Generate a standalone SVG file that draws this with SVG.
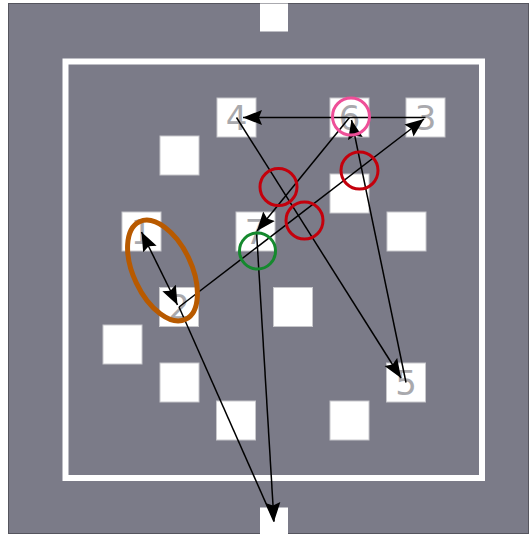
<svg xmlns="http://www.w3.org/2000/svg" width="531" height="536" viewBox="0 0 531 536">
  <defs>
    <style>
      .cell { fill: #ffffff; stroke: #c8c8cc; stroke-width: 1; }
      .lbl { font-family: "DejaVu Sans", sans-serif; font-size: 34px; fill: #a9a9ad; text-anchor: middle; }
      .edge { stroke: #000000; stroke-width: 1.5; fill: none; }
      .ring { fill: none; stroke-width: 3; }
      .red { stroke: #c4000c; }
    </style>
    <marker id="head" viewBox="0 -8 20 16" refX="19" refY="0" markerWidth="20" markerHeight="16" markerUnits="userSpaceOnUse" orient="auto-start-reverse">
      <path d="M0,-7.5 L19,0 L0,7.5 L3,0 z" fill="#000000"/>
    </marker>
  </defs>

  <!-- field -->
  <rect x="8.5" y="3.5" width="520" height="530" fill="#7b7b88" stroke="#55555e" stroke-width="1"/>
  <rect x="65.5" y="61.5" width="416.5" height="416.5" fill="none" stroke="#ffffff" stroke-width="6"/>
  <rect id="gate-top" x="260" y="3.5" width="28" height="28" fill="#ffffff"/>

  <!-- numbered cells -->
  <g id="n4"><rect class="cell" x="217" y="98" width="39" height="39"/><text class="lbl" x="236.5" y="129.5">4</text></g>
  <g id="n6"><rect class="cell" x="330" y="98" width="39" height="39"/><text class="lbl" x="349.5" y="129.5">6</text></g>
  <g id="n3"><rect class="cell" x="406" y="98" width="39" height="39"/><text class="lbl" x="425.5" y="129.5">3</text></g>
  <g id="n1"><rect class="cell" x="122" y="212" width="39" height="39"/><text class="lbl" x="141.5" y="243.5">1</text></g>
  <g id="n7"><rect class="cell" x="236" y="212" width="39" height="39"/><text class="lbl" x="255.5" y="243.5">7</text></g>
  <g id="n2"><rect class="cell" x="159.5" y="287.5" width="39" height="39"/><text class="lbl" x="179" y="319">2</text></g>
  <g id="n5"><rect class="cell" x="386.5" y="363" width="39" height="39"/><text class="lbl" x="406" y="394.5">5</text></g>

  <!-- plain cells -->
  <g id="b1"><rect class="cell" x="160" y="136" width="39" height="39"/></g>
  <g id="b2"><rect class="cell" x="330" y="174" width="39" height="39"/></g>
  <g id="b3"><rect class="cell" x="387" y="212" width="39" height="39"/></g>
  <g id="b4"><rect class="cell" x="273.5" y="287.5" width="39" height="39"/></g>
  <g id="b5"><rect class="cell" x="103" y="325" width="39" height="39"/></g>
  <g id="b6"><rect class="cell" x="160" y="363" width="39" height="39"/></g>
  <g id="b7"><rect class="cell" x="216.5" y="401" width="39" height="39"/></g>
  <g id="b8"><rect class="cell" x="330" y="401" width="39" height="39"/></g>

  <g id="gate-bottom"><rect x="260" y="507.5" width="28" height="28" fill="#ffffff"/></g>

  <!-- connectors -->
  <g id="edges">
    <line class="edge" x1="425.5" y1="117.5" x2="243" y2="117.5" marker-end="url(#head)"/>
    <line class="edge" x1="236.5" y1="117.5" x2="401" y2="378" marker-end="url(#head)"/>
    <line class="edge" x1="406" y1="382.5" x2="351.5" y2="120" marker-end="url(#head)"/>
    <line class="edge" x1="349.5" y1="117.5" x2="257" y2="231" marker-end="url(#head)"/>
    <line class="edge" x1="179" y1="307" x2="424" y2="119" marker-end="url(#head)"/>
    <line class="edge" x1="141.5" y1="232" x2="177.5" y2="305" marker-start="url(#head)" marker-end="url(#head)"/>
    <line class="edge" x1="256.5" y1="231.5" x2="274" y2="521.5" marker-end="url(#head)"/>
    <line class="edge" x1="179" y1="307" x2="274" y2="521.5"/>
  </g>

  <!-- highlight rings -->
  <g id="marks">
    <circle class="ring" cx="351" cy="116.5" r="18.5" stroke="#ee4f98"/>
    <circle class="ring red" cx="278.5" cy="187" r="18.5"/>
    <circle class="ring red" cx="304.5" cy="220.5" r="18.5"/>
    <circle class="ring red" cx="359.5" cy="170.5" r="18.5"/>
    <circle class="ring" cx="257.5" cy="251" r="18" stroke="#15892e"/>
    <ellipse cx="162.5" cy="270.5" rx="54" ry="29" transform="rotate(64.7 162.5 270.5)" fill="none" stroke="#b85a00" stroke-width="5"/>
  </g>
</svg>
